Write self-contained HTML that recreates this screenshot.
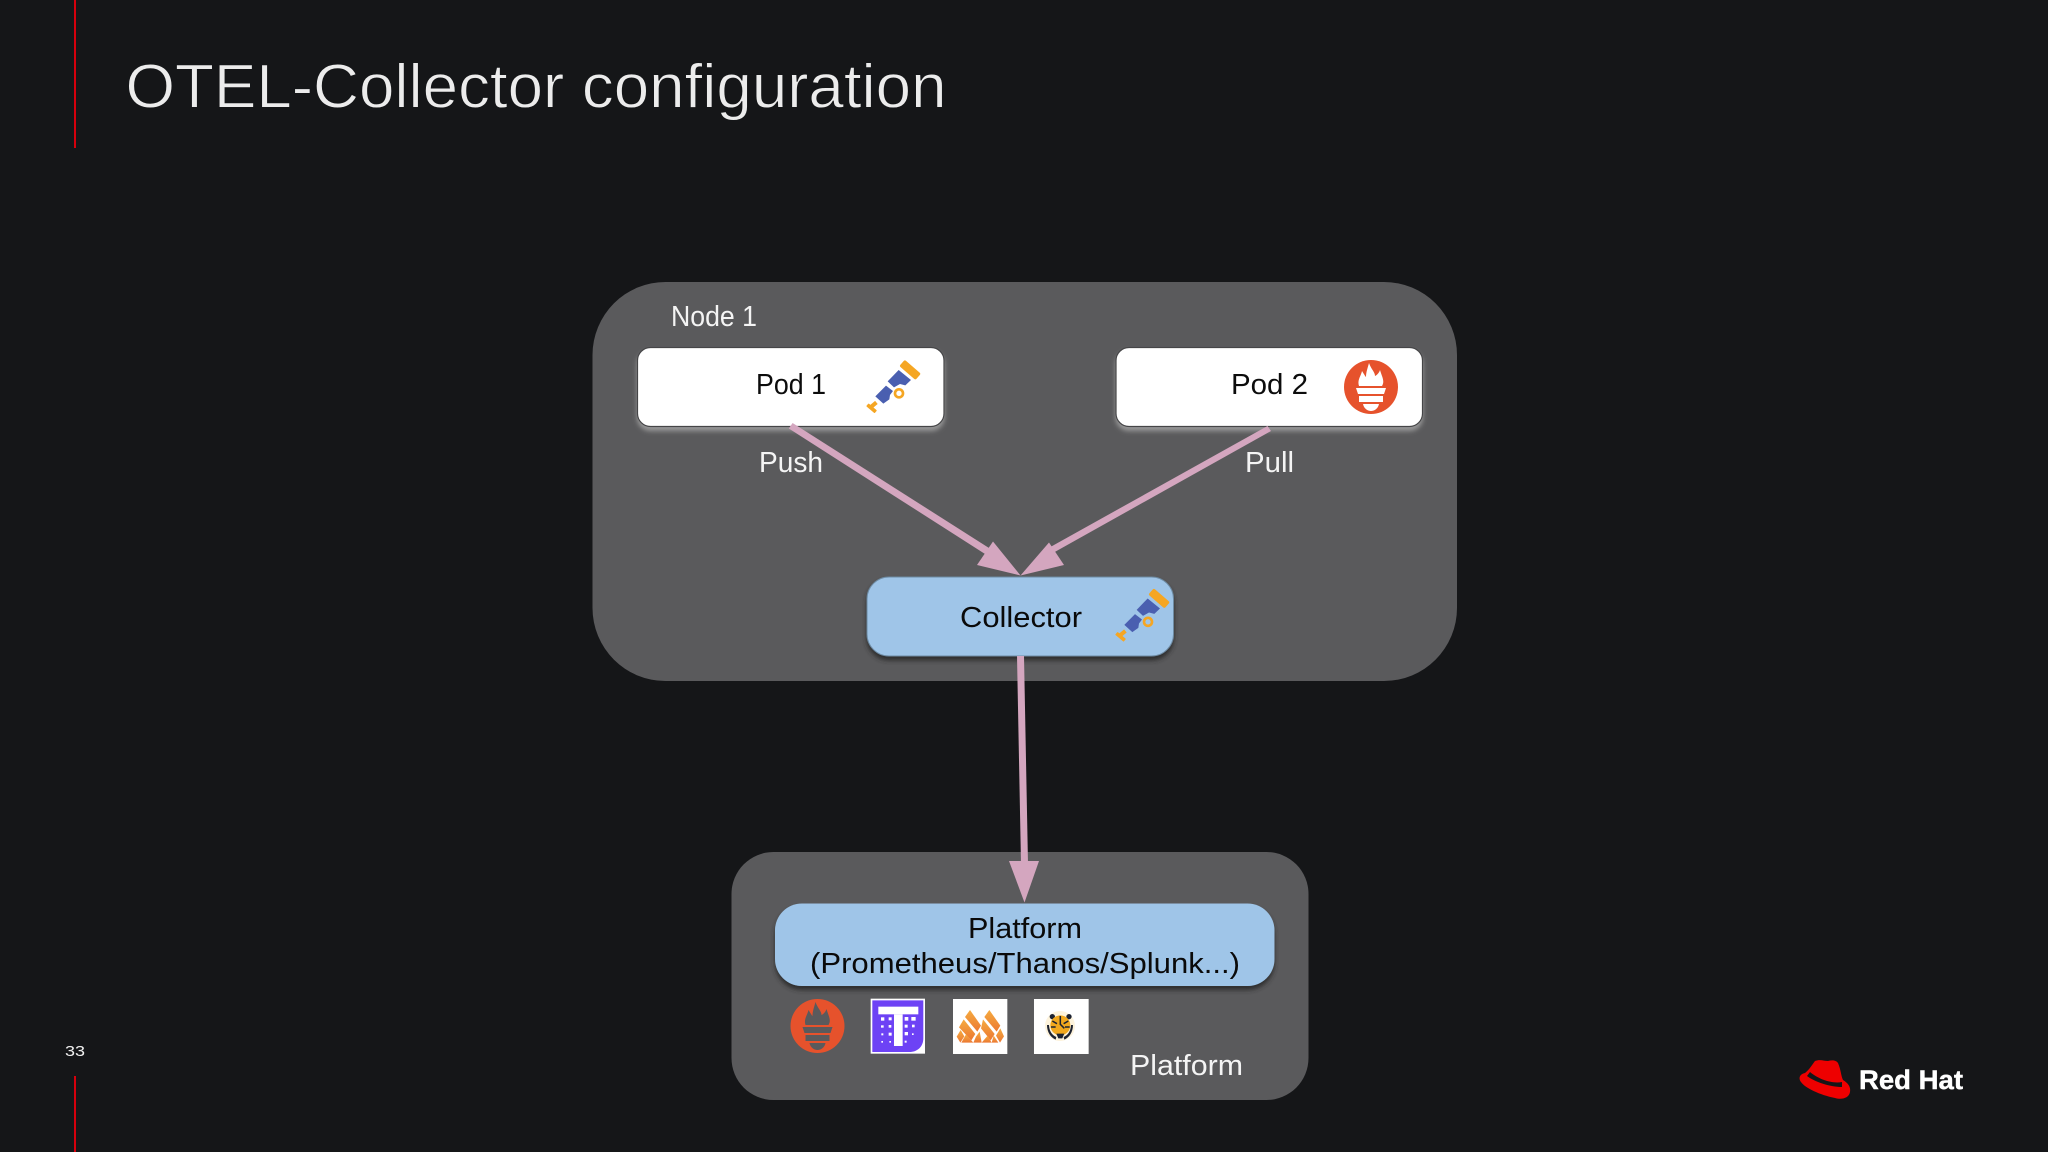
<!DOCTYPE html>
<html lang="en">
<head>
<meta charset="utf-8">
<title>OTEL-Collector configuration</title>
<style>
html,body{margin:0;padding:0;background:#151618;width:2048px;height:1152px;overflow:hidden}
svg{display:block}
text{font-family:"Liberation Sans",sans-serif}
</style>
</head>
<body>
<svg width="2048" height="1152" viewBox="0 0 2048 1152" xmlns="http://www.w3.org/2000/svg">
<defs>
<filter id="sw" x="-10%" y="-20%" width="120%" height="150%"><feDropShadow dx="0" dy="4" stdDeviation="2.5" flood-color="#a2a2a2" flood-opacity=".85"/></filter>
<filter id="sb" x="-10%" y="-20%" width="120%" height="150%"><feDropShadow dx="0" dy="4" stdDeviation="2.5" flood-color="#2a2a2c" flood-opacity=".9"/></filter>
<linearGradient id="mg" x1="0" y1="0" x2="0" y2="1"><stop offset="0" stop-color="#f5ab40"/><stop offset="1" stop-color="#ec7832"/></linearGradient>
<g id="scope">
<rect x="148" y="77" width="64" height="25" rx="5" transform="rotate(41 180 90)" fill="#f5a623"/>
<path d="M113 124 146 90 183 120 166 136 150 132 132 142Z" fill="#4a5fb0"/>
<path d="M76 169 108 137 129 153 120 165 118 178 100 191Z" fill="#4a5fb0"/>
<circle cx="147" cy="160" r="12" fill="none" stroke="#f5a623" stroke-width="8"/>
<rect x="58" y="189" width="24" height="12" transform="rotate(-40 70 195)" fill="#f5a623"/>
<rect x="48" y="199" width="33" height="11" rx="2" transform="rotate(40 64 205)" fill="#f5a623"/>
</g>
<g id="prom">
<circle cx="0" cy="0" r="27" fill="#e6522c"/>
<path d="M-12-1C-14-7-10-11-9-16-7-13-6-11-5-10-5-15-3-20-2-24 0-18 4-15 4-11 6-12 8-14 9-17 11-10 14-6 11-1Z" fill="currentColor"/>
<path d="M-15 1H15L13 7H-13Z" fill="currentColor"/>
<rect x="-12" y="9" width="24" height="6" fill="currentColor"/>
<path d="M-8 17H8C7 22 3 24 0 24-3 24-7 22-8 17Z" fill="currentColor"/>
</g>
</defs>

<rect width="2048" height="1152" fill="#151618"/>
<rect x="74" y="0" width="2" height="148" fill="#d6000c"/>
<rect x="74" y="1076" width="2" height="76" fill="#d6000c"/>
<text x="125.5" y="107.5" font-size="62" fill="#ececec" stroke="#151618" stroke-width="0.9" textLength="821" lengthAdjust="spacingAndGlyphs">OTEL-Collector configuration</text>
<text x="65" y="1056" font-size="15" fill="#f0f0f0" textLength="20" lengthAdjust="spacingAndGlyphs">33</text>

<!-- Node panel -->
<rect x="592.5" y="282" width="864.5" height="399" rx="73" fill="#5a5a5c"/>
<text x="671" y="326" font-size="29" fill="#f4f4f4" textLength="86" lengthAdjust="spacingAndGlyphs">Node 1</text>

<rect x="637.5" y="347.5" width="306.5" height="79" rx="13" fill="#fff" stroke="#454547" stroke-width="1.2" filter="url(#sw)"/>
<text x="756" y="394" font-size="29" fill="#0c0c0c" textLength="70" lengthAdjust="spacingAndGlyphs">Pod 1</text>
<use href="#scope" transform="translate(850 340) scale(.3333)"/>

<rect x="1116" y="347.5" width="306.5" height="79" rx="13" fill="#fff" stroke="#454547" stroke-width="1.2" filter="url(#sw)"/>
<text x="1231" y="394" font-size="29" fill="#0c0c0c" textLength="77" lengthAdjust="spacingAndGlyphs">Pod 2</text>
<use href="#prom" transform="translate(1371 387)" color="#ffffff"/>

<text x="759" y="472" font-size="29" fill="#f4f4f4" textLength="64" lengthAdjust="spacingAndGlyphs">Push</text>
<text x="1245" y="472" font-size="29" fill="#f4f4f4" textLength="49" lengthAdjust="spacingAndGlyphs">Pull</text>

<rect x="867" y="577" width="306.5" height="79" rx="22" fill="#9fc5e8" stroke="#6e8ba3" stroke-width="1" filter="url(#sb)"/>
<text x="960" y="627" font-size="29" fill="#0a0a0a" textLength="122" lengthAdjust="spacingAndGlyphs">Collector</text>
<use href="#scope" transform="translate(1099 568.5) scale(.3333)"/>

<!-- Platform panel -->
<rect x="731.5" y="852" width="577" height="248" rx="42" fill="#5a5a5c"/>
<rect x="775" y="903.5" width="499.5" height="82.5" rx="27" fill="#9fc5e8" filter="url(#sb)"/>
<text x="968" y="938" font-size="29" fill="#0a0a0a" textLength="114" lengthAdjust="spacingAndGlyphs">Platform</text>
<text x="810" y="973" font-size="29" fill="#0a0a0a" textLength="430" lengthAdjust="spacingAndGlyphs">(Prometheus/Thanos/Splunk...)</text>
<text x="1130" y="1075" font-size="29" fill="#f4f4f4" textLength="113" lengthAdjust="spacingAndGlyphs">Platform</text>

<!-- Arrows -->
<g fill="#d4a6bf">
<path d="M788.8 428.5 792.6 423 1000 555 996 561Z"/>
<path d="M1020.5 575.5 977 565 993 541.5Z"/>
<path d="M1267.5 426 1271 431 1044 558 1040.5 552.5Z"/>
<path d="M1020.5 575.5 1049 542.5 1064 565Z"/>
<path d="M1017 656H1024L1028 864H1021Z"/>
<path d="M1024.5 902.5 1009 861H1039Z"/>
</g>

<!-- Platform icons -->
<use href="#prom" transform="translate(817.5 1026)" color="#5a5a5c"/>
<g transform="translate(780 990) scale(.3333)">
<rect x="272" y="26" width="163" height="165" fill="#fff"/>
<path d="M277 31H430V145C430 170 412 186 388 186H277Z" fill="#6d42f5"/>
<rect x="295" y="50" width="120" height="23" fill="#fff"/>
<rect x="342" y="73" width="26" height="95" fill="#fff"/>
<g fill="#fff">
<rect x="303" y="82" width="10" height="10"/><rect x="326" y="82" width="9" height="9"/><rect x="374" y="81" width="11" height="11"/><rect x="394" y="81" width="13" height="11"/>
<rect x="303" y="106" width="8" height="7"/><rect x="326" y="105" width="8" height="8"/><rect x="374" y="104" width="9" height="9"/><rect x="396" y="104" width="8" height="8"/>
<rect x="326" y="128" width="9" height="9"/><rect x="304" y="130" width="6" height="6"/><rect x="374" y="126" width="10" height="10"/><rect x="396" y="130" width="5" height="5"/>
<rect x="304" y="153" width="5" height="5"/><rect x="328" y="153" width="5" height="5"/><rect x="374" y="152" width="6" height="6"/>
</g>
</g>

<g transform="translate(945 995) scale(.3333)">
<rect x="24" y="12" width="163" height="165" fill="#fff"/>
<g fill="url(#mg)">
<path d="M75 45 108 92 97 110 60 66Z"/>
<path d="M133 45 166 92 155 110 118 66Z"/>
<path d="M56 73 91 117 79 136 42 97Z"/>
<path d="M114 73 149 117 137 136 108 100Z"/>
<path d="M47 105 58 124 46 143 35 125Z"/>
<path d="M166 100 177 124 165 143 153 122Z"/>
<path d="M63 118 85 143H49Z"/>
<path d="M93 125 104 110 110 143H85Z"/>
<path d="M128 122 140 143H110Z"/>
<path d="M146 122 160 143H140Z"/>
</g>
<rect x="267" y="12" width="164" height="165" fill="#fff"/>
<circle cx="345" cy="93" r="45" fill="#fdf3dc"/>
<circle cx="322" cy="65" r="8" fill="#1d2230"/><circle cx="372" cy="65" r="8" fill="#1d2230"/>
<path d="M306 90C306 112 318 128 332 134L334 126C320 120 313 108 312 90Z" fill="#1d2230"/>
<path d="M384 90C384 112 372 128 358 134L356 126C370 120 377 108 378 90Z" fill="#1d2230"/>
<circle cx="346" cy="91" r="30" fill="#f2a81d"/>
<path d="M322 78 336 86M370 78 356 86M318 96 332 96M374 96 360 96M346 63V88L358 100" stroke="#1d2230" stroke-width="4.5" fill="none"/>
<path d="M334 116H358L352 130H340Z" fill="#1d2230"/>
</g>

<!-- Red Hat logo -->
<path d="M1815 1061C1820 1059 1824 1061 1828 1061 1832 1060 1836 1060 1838 1063 1841 1070 1841 1076 1843 1080 1848 1083 1851 1087 1850 1092 1849 1098 1842 1100 1835 1098 1820 1095 1805 1088 1801 1082 1798 1078 1800 1074 1805 1073 1809 1070 1812 1065 1815 1061Z" fill="#ee0000"/>
<path d="M1810 1072C1818 1079 1832 1084 1842 1082L1842 1087C1830 1087 1815 1082 1807 1076Z" fill="#151618"/>
<text x="1859" y="1089" font-size="27" font-weight="700" fill="#ffffff" stroke="#ffffff" stroke-width="0.4" textLength="104" lengthAdjust="spacingAndGlyphs">Red Hat</text>
</svg>
</body>
</html>
